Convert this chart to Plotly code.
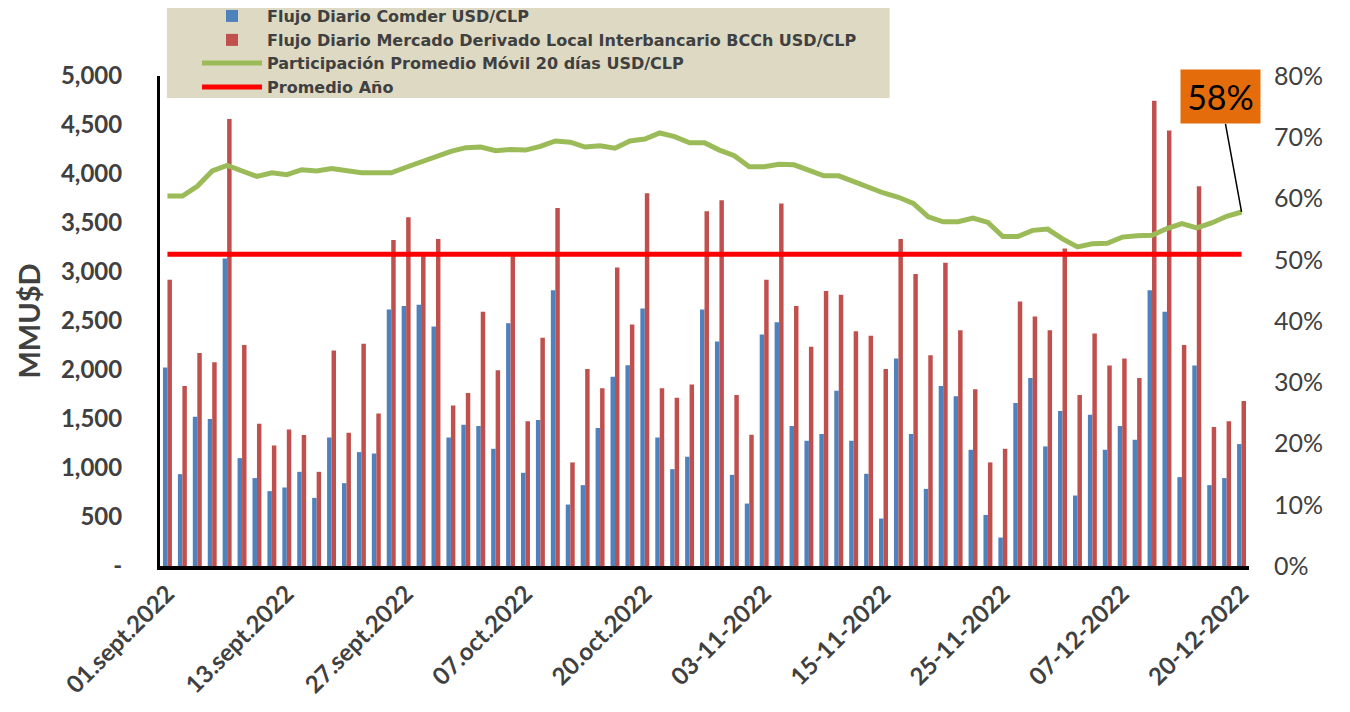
import plotly.graph_objects as go

dates = [
    "2022-09-01", "2022-09-02", "2022-09-05", "2022-09-06", "2022-09-07", "2022-09-08", "2022-09-09",
    "2022-09-12", "2022-09-13", "2022-09-14", "2022-09-15", "2022-09-20", "2022-09-21", "2022-09-22",
    "2022-09-23", "2022-09-26", "2022-09-27", "2022-09-28", "2022-09-29", "2022-09-30",
    "2022-10-03", "2022-10-04", "2022-10-05", "2022-10-06", "2022-10-07", "2022-10-11", "2022-10-12",
    "2022-10-13", "2022-10-14", "2022-10-17", "2022-10-18", "2022-10-19", "2022-10-20", "2022-10-21",
    "2022-10-24", "2022-10-25", "2022-10-26", "2022-10-27", "2022-10-28",
    "2022-11-02", "2022-11-03", "2022-11-04", "2022-11-07", "2022-11-08", "2022-11-09", "2022-11-10",
    "2022-11-11", "2022-11-14", "2022-11-15", "2022-11-16", "2022-11-17", "2022-11-18", "2022-11-21",
    "2022-11-22", "2022-11-23", "2022-11-24", "2022-11-25", "2022-11-28", "2022-11-29", "2022-11-30",
    "2022-12-01", "2022-12-02", "2022-12-05", "2022-12-06", "2022-12-07", "2022-12-09", "2022-12-12",
    "2022-12-13", "2022-12-14", "2022-12-15", "2022-12-16", "2022-12-19", "2022-12-20",
]

comder = [
    2025, 937, 1523, 1500, 3139, 1101, 897, 764, 801, 961, 695, 1312, 845, 1162, 1148,
    2618, 2652, 2665, 2444, 1312, 1442, 1428, 1196, 2478, 951,
    1489, 2815, 627, 825, 1408, 1932, 2048, 2628, 1312, 988, 1115, 2618, 2290, 930, 637,
    2362, 2488, 1428, 1278, 1346, 1789, 1278, 941, 484, 2117,
    1346, 787, 1837, 1731, 1186, 521, 290, 1664, 1919, 1220, 1581, 719, 1544, 1186, 1428,
    1288, 2815, 2594, 907, 2045, 825, 897, 1244,
]

derivado = [
    2921, 1837, 2174, 2079, 4560, 2256, 1452, 1230, 1394, 1336, 961, 2198, 1360, 2267, 1557,
    3327, 3558, 3160, 3337, 1639, 1766, 2594, 1997, 3160, 1476,
    2328, 3654, 1057, 2011, 1813, 3047, 2464, 3804, 1813, 1718, 1851, 3620, 3732, 1745, 1339,
    2921, 3698, 2652, 2236, 2805, 2768, 2396, 2349, 2011, 3337,
    2979, 2150, 3095, 2406, 1803, 1057, 1196, 2699, 2546, 2406, 3241, 1745, 2372, 2045, 2117,
    1919, 4748, 4445, 2256, 3875, 1418, 1476, 1684,
]

participacion = [
    60.4, 60.4, 62.0, 64.5, 65.4, 64.5, 63.6, 64.2, 63.9, 64.7, 64.5, 64.9, 64.5, 64.2, 64.2,
    64.2, 65.1, 66.0, 66.8, 67.7, 68.3, 68.4, 67.8, 68.0, 67.9,
    68.5, 69.4, 69.2, 68.4, 68.6, 68.2, 69.4, 69.7, 70.7, 70.1, 69.1, 69.1, 67.9, 67.0, 65.2,
    65.2, 65.6, 65.5, 64.5, 63.7, 63.7, 62.7, 61.8, 60.9, 60.2,
    59.2, 57.0, 56.2, 56.2, 56.8, 56.1, 53.8, 53.8, 54.8, 55.0, 53.4, 52.1, 52.6, 52.7, 53.7,
    53.9, 54.0, 55.1, 55.9, 55.2, 56.0, 57.1, 57.8,
]
participacion = [v / 100 for v in participacion]

promedio_anio = 0.509

tick_dates = ["2022-09-01", "2022-09-13", "2022-09-27", "2022-10-07", "2022-10-20",
              "2022-11-03", "2022-11-15", "2022-11-25", "2022-12-07", "2022-12-20"]
tick_labels = ["01.sept.2022", "13.sept.2022", "27.sept.2022", "07.oct.2022", "20.oct.2022",
               "03-11-2022", "15-11-2022", "25-11-2022", "07-12-2022", "20-12-2022"]

left_vals = [0, 500, 1000, 1500, 2000, 2500, 3000, 3500, 4000, 4500, 5000]
left_text = ["-", "500", "1,000", "1,500", "2,000", "2,500", "3,000", "3,500", "4,000", "4,500", "5,000"]

last_label = "58%"

FONT = "Lato"
GREY = "#404040"

fig = go.Figure()
fig.add_trace(go.Bar(x=dates, y=comder, name="Flujo Diario Comder USD/CLP",
                     marker=dict(color="#4F81BD", line=dict(width=0)), legend="legend"))
fig.add_trace(go.Bar(x=dates, y=derivado,
                     name="Flujo Diario Mercado Derivado Local Interbancario BCCh USD/CLP",
                     marker=dict(color="#C0504D", line=dict(width=0)), legend="legend2"))
fig.add_trace(go.Scatter(x=dates, y=participacion, yaxis="y2", mode="lines",
                         name="Participación Promedio Móvil 20 días USD/CLP",
                         line=dict(color="#9BBB59", width=5), legend="legend3"))
fig.add_trace(go.Scatter(x=dates, y=[promedio_anio] * len(dates), yaxis="y2", mode="lines",
                         name="Promedio Año", line=dict(color="#FF0000", width=5),
                         legend="legend4"))

fig.add_shape(type="rect", xref="paper", yref="paper",
              x0=0.0064, x1=0.670, y0=0.955, y1=1.145,
              fillcolor="#DDD9C3", line=dict(width=0), layer="below")

fig.add_annotation(x=dates[-1], y=participacion[-1], xref="x", yref="y2",
                   text=last_label, showarrow=True, arrowhead=0, arrowwidth=1.5,
                   arrowcolor="black", ax=-21, ay=-115, standoff=0,
                   bgcolor="#E46C0A", borderpad=5, width=69, height=43,
                   font=dict(family=FONT, size=34, color="black"))


def legend_row(y):
    return dict(x=0.034, y=y, xanchor="left", yanchor="middle",
                bgcolor="rgba(0,0,0,0)",
                font=dict(family="DejaVu Sans", size=16, color=GREY, weight="bold"),
                itemwidth=60)


# the page body adds an 8px margin; size the figure so the page is exactly 1350x712
fig.update_layout(
    width=1334, height=696,
    margin=dict(l=152, r=93, t=68, b=138, autoexpand=False),
    paper_bgcolor="white", plot_bgcolor="white",
    barmode="group", bargap=0.4, bargroupgap=0.0,
    font=dict(family=FONT, color=GREY),
    showlegend=True,
    legend=legend_row(1.1224),
    legend2=legend_row(1.0735),
    legend3=legend_row(1.0265),
    legend4=legend_row(0.9776),
    xaxis=dict(type="category", range=[-0.5, len(dates) - 0.5],
               tickmode="array", tickvals=tick_dates, ticktext=tick_labels,
               tickangle=-45, showgrid=False, showline=True, linecolor="black", linewidth=4,
               ticks="", automargin=False,
               tickfont=dict(family=FONT, size=24, color=GREY, weight="bold")),
    yaxis=dict(range=[0, 5000], tickmode="array", tickvals=left_vals, ticktext=left_text,
               showgrid=False, zeroline=False, showline=True, linecolor="black", linewidth=3,
               ticks="", ticklabelstandoff=30, automargin=False,
               tickfont=dict(family=FONT, size=24, color=GREY, weight="bold"),
               title=dict(text="MMU$D", standoff=12,
                          font=dict(family=FONT, size=29, color=GREY, weight="bold"))),
    yaxis2=dict(range=[0, 0.8], overlaying="y", side="right", tickformat=".0%",
                dtick=0.1, showgrid=False, zeroline=False, showline=False, ticks="",
                ticklabelstandoff=24, automargin=False,
                tickfont=dict(family=FONT, size=25, color=GREY)),
)

fig.write_html("out.html")
